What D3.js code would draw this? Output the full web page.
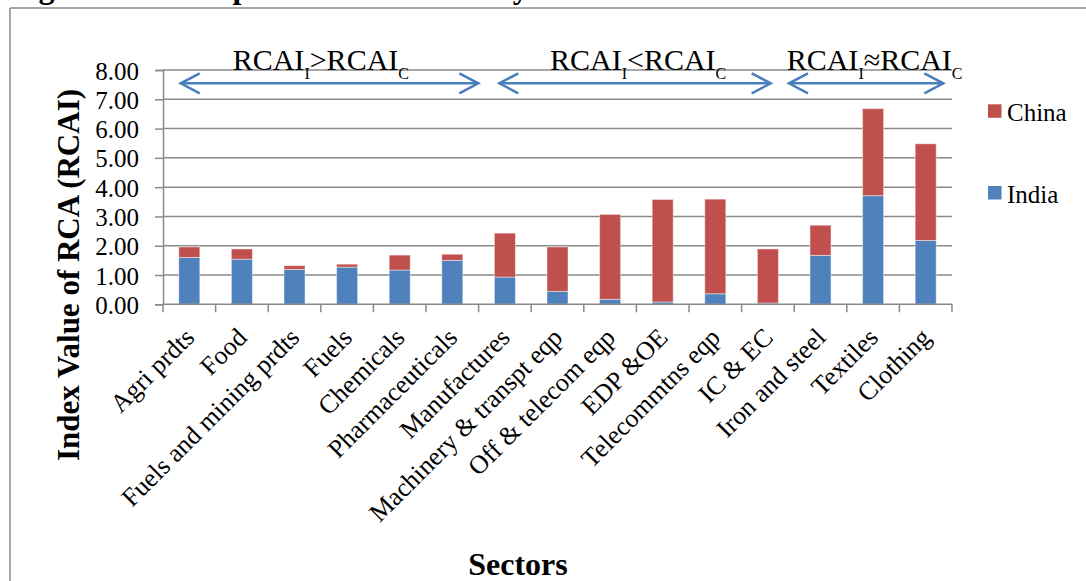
<!DOCTYPE html>
<html>
<head>
<meta charset="utf-8">
<script src="https://cdn.jsdelivr.net/npm/d3@7"></script>
<style>
  html, body { margin: 0; padding: 0; background: #fff; }
  svg { display: block; }
  svg text { font-family: "Liberation Serif", "Times New Roman", serif; fill: #000; }
</style>
</head>
<body>
<svg id="chart" width="1086" height="581"></svg>
<script>
// Sector RCA index values, stacked India + China
const categories = ["Agri prdts", "Food", "Fuels and mining prdts", "Fuels", "Chemicals",
  "Pharmaceuticals", "Manufactures", "Machinery & transpt eqp", "Off & telecom eqp",
  "EDP &OE", "Telecommtns eqp", "IC & EC", "Iron and steel", "Textiles", "Clothing"];
const india = [1.60, 1.54, 1.19, 1.27, 1.17, 1.50, 0.93, 0.44, 0.17, 0.08, 0.36, 0.04, 1.67, 3.71, 2.18];
const china = [0.36, 0.35, 0.13, 0.10, 0.51, 0.21, 1.50, 1.52, 2.90, 3.50, 3.23, 1.85, 1.03, 2.97, 3.30];
const seriesNames = ["India", "China"];
const yTicks = [0, 1, 2, 3, 4, 5, 6, 7, 8];
// Sector groups marked with arrows above the bars: [first index, last index, relation sign]
const groups = [[0, 5, ">"], [6, 11, "<"], [12, 14, "\u2248"]];

const colors = { India: "#4F81BD", China: "#C0504D" };
const gridColor = "#8a8a8a";

const svg = d3.select("#chart");

// Frame of the chart area
svg.append("line").attr("x1", 10).attr("x2", 1086).attr("y1", 8).attr("y2", 8)
  .attr("stroke", gridColor).attr("stroke-width", 1.5);
svg.append("line").attr("x1", 10).attr("x2", 10).attr("y1", 8).attr("y2", 581)
  .attr("stroke", gridColor).attr("stroke-width", 1.5);

// Figure caption, sitting above the frame
svg.append("text").attr("x", 10).attr("y", -2)
  .attr("font-size", 32).attr("font-weight", "bold")
  .text("Figure 4.1: Comparative Sector Analysis of RCA of India and China: 2010");

const plot = { left: 163, right: 952, top: 70, bottom: 304.3 };

const x = d3.scaleBand().domain(categories)
  .range([plot.left, plot.right]).paddingInner(0.6).paddingOuter(0.3);
const y = d3.scaleLinear().domain([0, 8]).range([plot.bottom, plot.top]);

// Gridlines
svg.append("g").selectAll("line").data(yTicks.filter(d => d > 0)).join("line")
  .attr("x1", plot.left).attr("x2", plot.right)
  .attr("y1", d => y(d)).attr("y2", d => y(d))
  .attr("stroke", gridColor).attr("stroke-width", 1.5);

// Y axis
const yAxis = svg.append("g").attr("transform", `translate(${plot.left},0)`)
  .call(d3.axisLeft(y).tickValues(yTicks).tickFormat(d3.format(".2f")).tickSize(8).tickPadding(16));
yAxis.select(".domain").attr("stroke", gridColor).attr("stroke-width", 1.5);
yAxis.selectAll(".tick line").attr("stroke", gridColor).attr("stroke-width", 1.5);
yAxis.selectAll(".tick text").attr("font-size", 25).attr("dy", "0.36em");

// Stacked bars
const rows = categories.map((c, i) => ({ sector: c, India: india[i], China: china[i] }));
const stack = d3.stack().keys(seriesNames)(rows);
svg.append("g").selectAll("g").data(stack).join("g")
  .attr("fill", d => colors[d.key])
  .selectAll("rect").data(d => d).join("rect")
  .attr("x", d => x(d.data.sector))
  .attr("width", x.bandwidth())
  .attr("y", d => y(d[1]))
  .attr("height", d => y(d[0]) - y(d[1]))
  .attr("stroke", "rgba(255,255,255,0.45)").attr("stroke-width", 1);

// X axis line and category boundary ticks
svg.append("line").attr("x1", plot.left).attr("x2", plot.right)
  .attr("y1", plot.bottom).attr("y2", plot.bottom)
  .attr("stroke", gridColor).attr("stroke-width", 1.5);
const step = x.step();
svg.append("g").selectAll("line").data(d3.range(categories.length + 1)).join("line")
  .attr("x1", i => plot.left + i * step).attr("x2", i => plot.left + i * step)
  .attr("y1", plot.bottom).attr("y2", plot.bottom + 8)
  .attr("stroke", gridColor).attr("stroke-width", 1.5);

// Rotated category labels
svg.append("g").selectAll("text").data(categories).join("text")
  .attr("transform", d => `translate(${x(d) + x.bandwidth() / 2 + 6.5},339) rotate(-45)`)
  .attr("text-anchor", "end").attr("font-size", 26).text(d => d);

// Axis titles
svg.append("text").attr("transform", "translate(79,275) rotate(-90)")
  .attr("text-anchor", "middle").attr("font-size", 31).attr("font-weight", "bold")
  .text("Index Value of RCA (RCAI)");
svg.append("text").attr("x", 518).attr("y", 575)
  .attr("text-anchor", "middle").attr("font-size", 32).attr("font-weight", "bold")
  .text("Sectors");

// Legend
const legendItems = [["China", 104.3], ["India", 186]];
const legend = svg.append("g").selectAll("g").data(legendItems).join("g");
legend.append("rect").attr("x", 988).attr("y", d => d[1]).attr("width", 13.5).attr("height", 13.5)
  .attr("fill", d => colors[d[0]]);
legend.append("text").attr("x", 1007).attr("y", d => d[1] + 16.5)
  .attr("font-size", 25).text(d => d[0]);

// Group arrows with relation labels
const arrowY = 83.3;
const arrowColor = "#4A7EBB";
const groupSpans = [[180.7, 478.3, 232.7], [499.3, 770.7, 550], [789, 943.3, 786.7]];
const ag = svg.append("g");
groups.forEach((g, k) => {
  const [x1, x2, tx] = groupSpans[k];
  ag.append("line").attr("x1", x1).attr("x2", x2).attr("y1", arrowY).attr("y2", arrowY)
    .attr("stroke", arrowColor).attr("stroke-width", 2.5);
  ag.append("path")
    .attr("d", `M${x1 + 19},${arrowY - 10} L${x1},${arrowY} L${x1 + 19},${arrowY + 10}`)
    .attr("fill", "none").attr("stroke", arrowColor).attr("stroke-width", 2.5);
  ag.append("path")
    .attr("d", `M${x2 - 19},${arrowY - 10} L${x2},${arrowY} L${x2 - 19},${arrowY + 10}`)
    .attr("fill", "none").attr("stroke", arrowColor).attr("stroke-width", 2.5);
  const t = ag.append("text").attr("x", tx).attr("y", 70).attr("font-size", 30);
  t.append("tspan").text("RCAI");
  t.append("tspan").attr("font-size", 16).attr("dy", 9).text("I");
  t.append("tspan").attr("dy", -9).text(g[2] + "RCAI");
  t.append("tspan").attr("font-size", 16).attr("dy", 9).text("C");
});
</script>
</body>
</html>
